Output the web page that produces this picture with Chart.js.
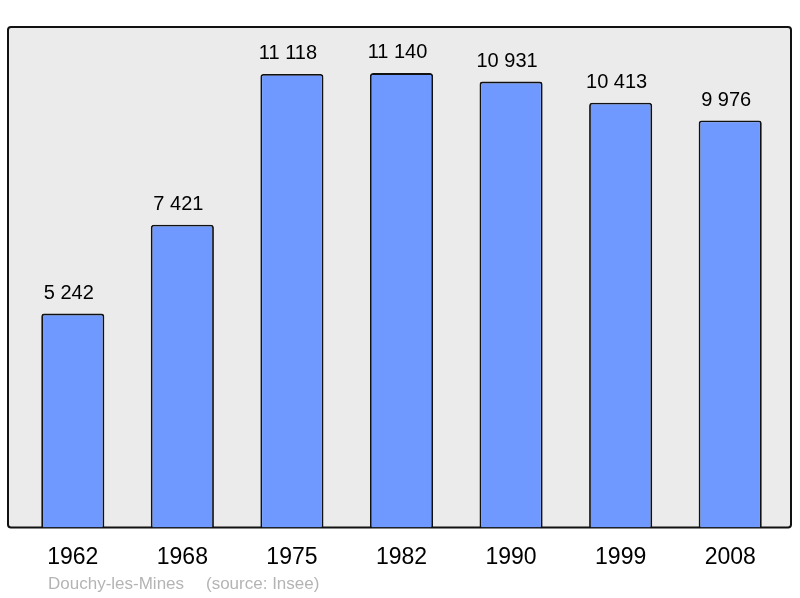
<!DOCTYPE html>
<html>
<head>
<meta charset="utf-8">
<script src="https://cdn.jsdelivr.net/npm/chart.js@4/dist/chart.umd.min.js"></script>
<style>
  html, body { margin: 0; padding: 0; background: #ffffff; }
  #wrap { width: 800px; height: 598px; position: relative; }
</style>
</head>
<body>
<div id="wrap"><canvas id="c" width="800" height="598"></canvas></div>
<script>
const years = ["1962", "1968", "1975", "1982", "1990", "1999", "2008"];
const population = [5242, 7421, 11118, 11140, 10931, 10413, 9976];
const placeName = "Douchy-les-Mines";
const sourceText = "(source: Insee)";

function fmt(v) {
  return String(v).replace(/\B(?=(\d{3})+(?!\d))/g, " ");
}

const backgroundPlugin = {
  id: "plotBg",
  beforeDatasetsDraw(chart) {
    const { ctx, chartArea: a } = chart;
    const x0 = a.left - 10, x1 = a.right + 6, y0 = a.top, y1 = a.bottom;
    ctx.save();
    ctx.beginPath();
    ctx.roundRect(x0, y0, x1 - x0, y1 - y0, 3);
    ctx.fillStyle = "#ebebeb";
    ctx.fill();
    ctx.lineWidth = 2;
    ctx.strokeStyle = "#111111";
    ctx.stroke();
    ctx.restore();
  }
};

const labelPlugin = {
  id: "valueLabels",
  afterDatasetsDraw(chart) {
    const { ctx } = chart;
    const meta = chart.getDatasetMeta(0);
    ctx.save();
    ctx.font = '20px "Liberation Sans", Arial, sans-serif';
    ctx.fillStyle = "#000000";
    ctx.textAlign = "center";
    ctx.textBaseline = "alphabetic";
    meta.data.forEach((bar, i) => {
      ctx.fillText(fmt(population[i]), bar.x - 4, bar.y - 15);
    });
    ctx.restore();
  },
  afterDraw(chart) {
    const { ctx, chartArea: a } = chart;
    ctx.save();
    ctx.font = '17px "Liberation Sans", Arial, sans-serif';
    ctx.fillStyle = "#b4b4b4";
    ctx.textAlign = "left";
    ctx.textBaseline = "alphabetic";
    ctx.fillText(placeName, a.left + 30, a.bottom + 62);
    ctx.fillText(sourceText, a.left + 188, a.bottom + 62);
    ctx.restore();
  }
};

new Chart(document.getElementById("c"), {
  type: "bar",
  data: {
    labels: years,
    datasets: [{
      data: population,
      backgroundColor: "#7099ff",
      borderColor: "#111111",
      borderWidth: 1.8,
      borderRadius: 3,
      borderSkipped: "bottom",
      barPercentage: 0.576,
      categoryPercentage: 1.0
    }]
  },
  options: {
    responsive: false,
    animation: false,
    devicePixelRatio: 1,
    layout: { padding: { left: 18, right: 15, top: 27, bottom: 11 } },
    plugins: { legend: { display: false }, tooltip: { enabled: false }, title: { display: false } },
    scales: {
      x: {
        grid: { display: false, drawTicks: false },
        border: { display: false },
        ticks: {
          color: "#000000",
          font: { family: '"Liberation Sans", Arial, sans-serif', size: 23 },
          padding: 16,
          maxRotation: 0
        }
      },
      y: {
        display: false,
        min: 0,
        max: 12270
      }
    }
  },
  plugins: [backgroundPlugin, labelPlugin]
});
</script>
</body>
</html>
